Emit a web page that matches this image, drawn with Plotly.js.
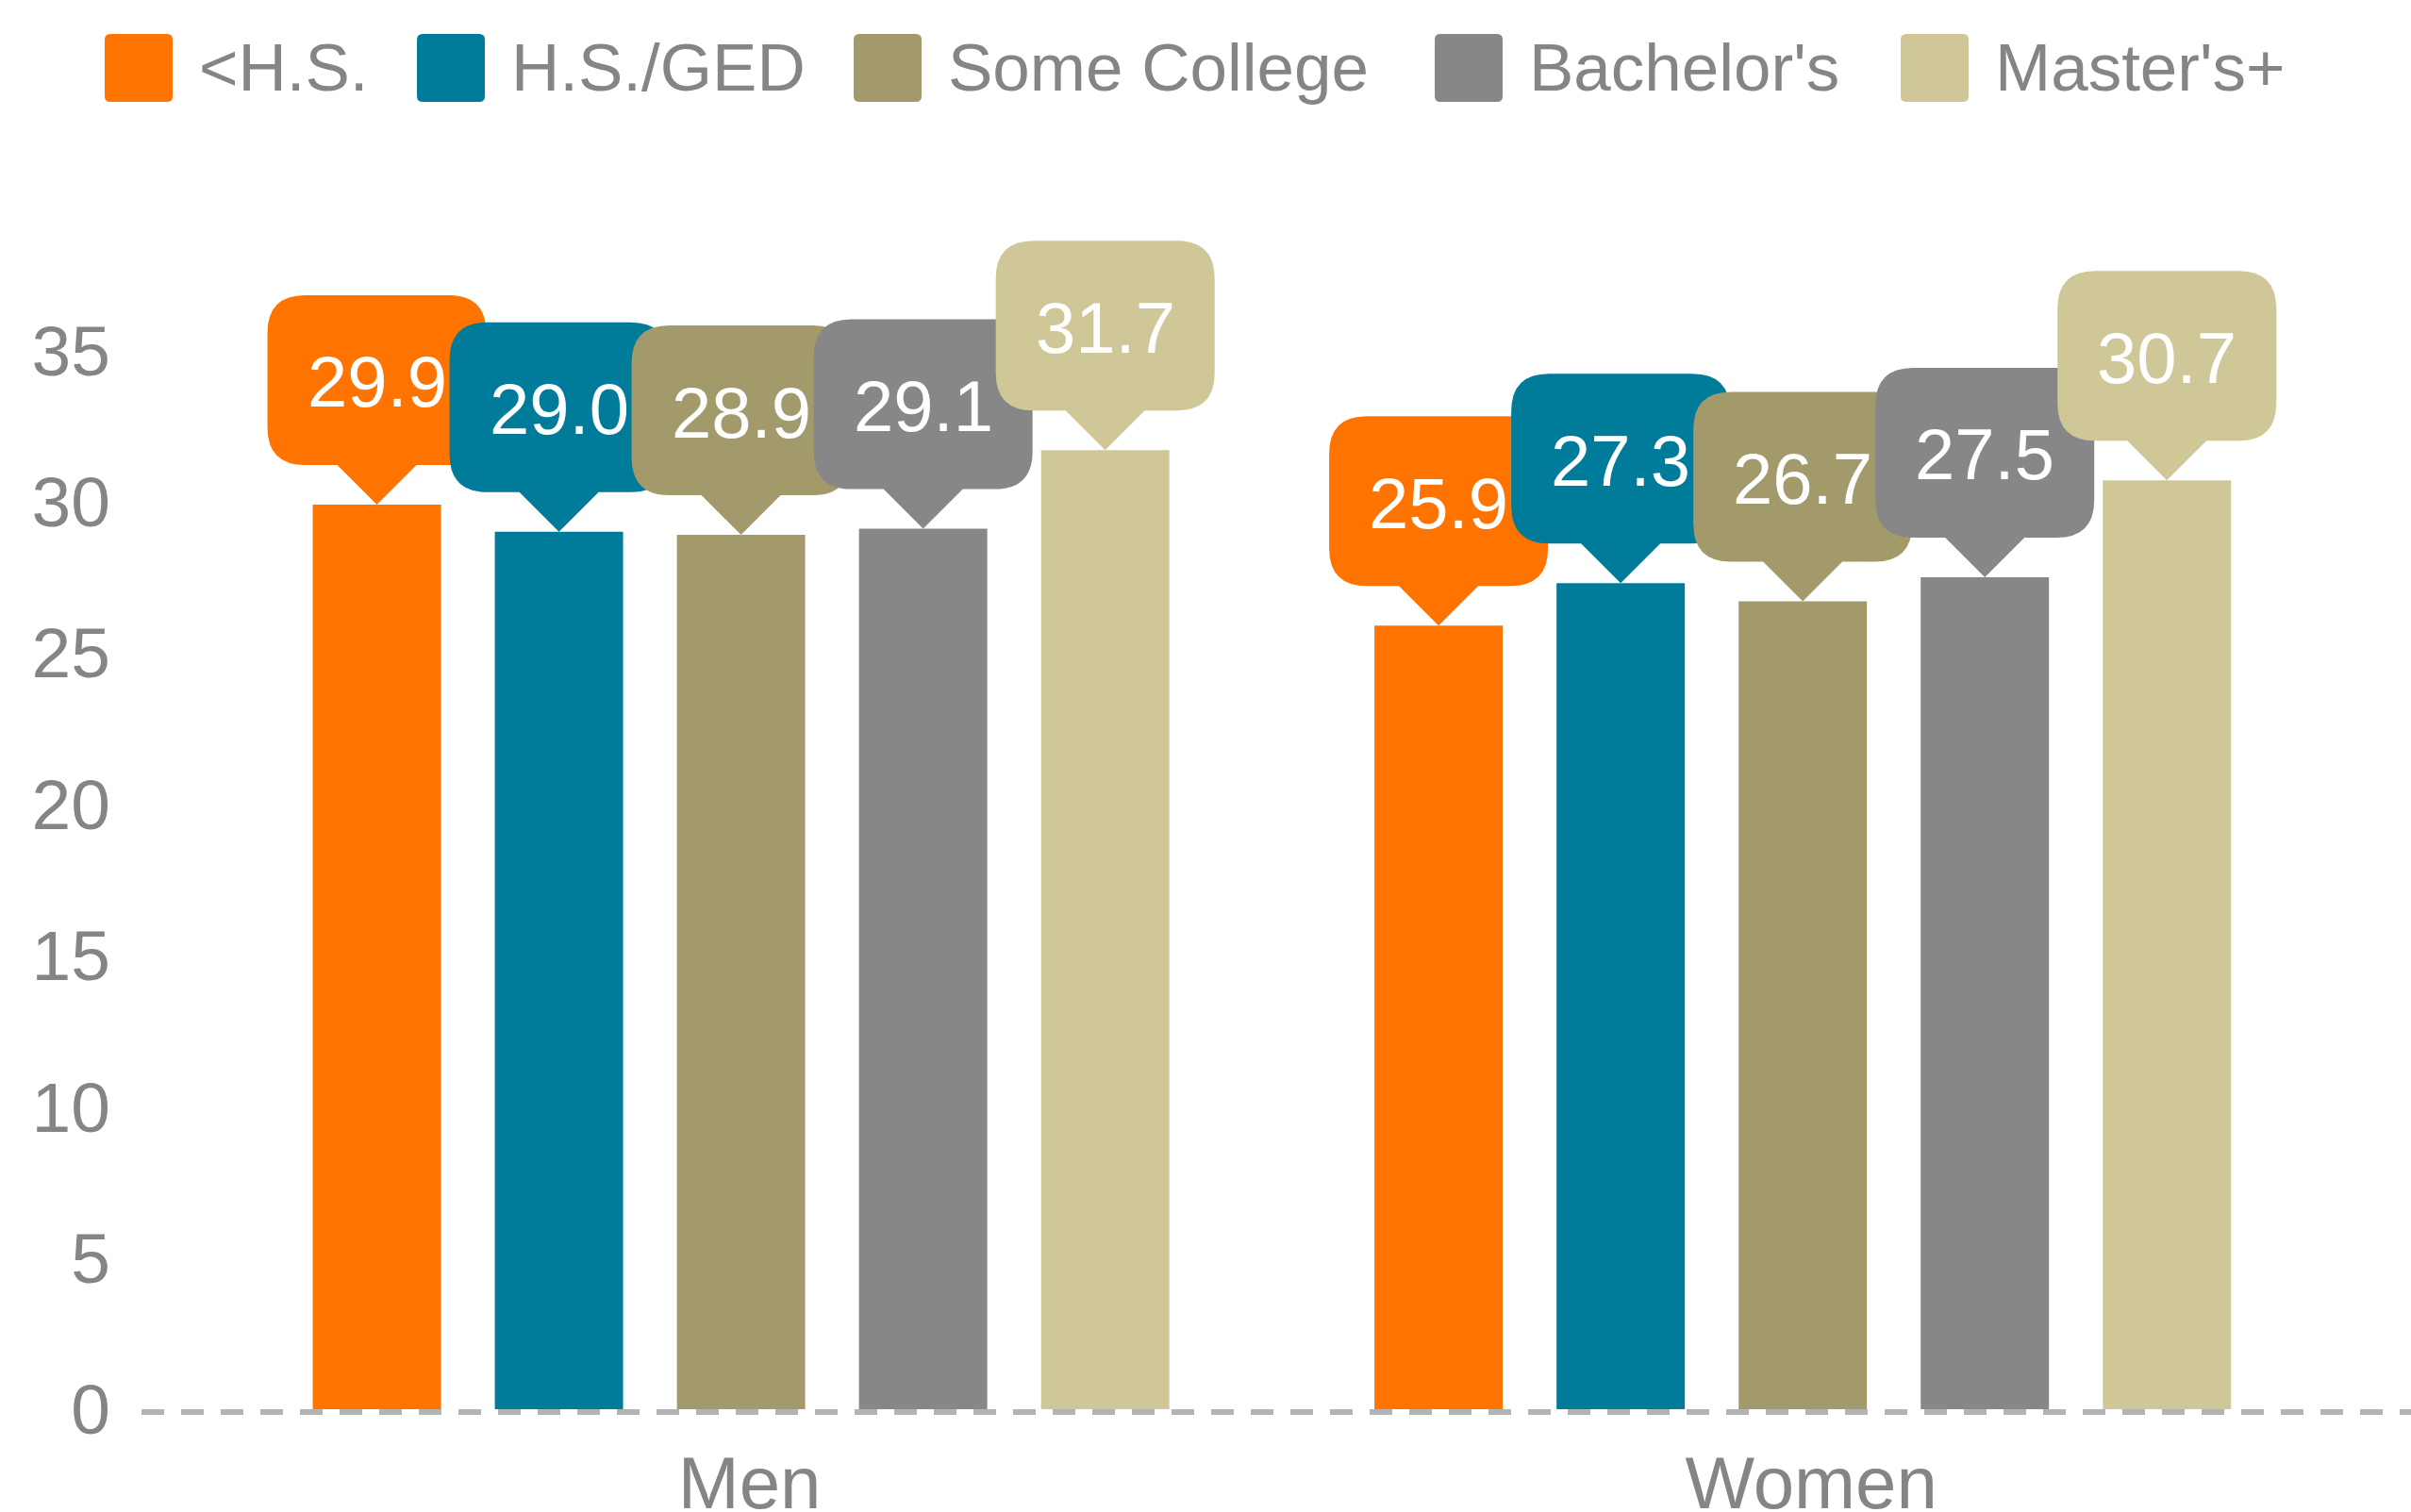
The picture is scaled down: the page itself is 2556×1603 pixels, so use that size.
<!DOCTYPE html>
<html><head><meta charset="utf-8">
<script src="https://cdn.plot.ly/plotly-3.0.1.min.js"></script>
<style>html,body{margin:0;padding:0;background:#fff;}#chart{width:2556px;height:1603px;}</style>
</head><body><div id="chart"></div>
<script>
// ---- data ----
const categories = ['Men', 'Women'];
const seriesNames = ['<H.S.', 'H.S./GED', 'Some College', "Bachelor's", "Master's+"];
const lessThanHS = [29.9, 25.9];
const hsGED = [29.0, 27.3];
const someCollege = [28.9, 26.7];
const bachelors = [29.1, 27.5];
const mastersPlus = [31.7, 30.7];
const yTickVals = [0, 5, 10, 15, 20, 25, 30, 35];
const yTickText = ['0', '5', '10', '15', '20', '25', '30', '35'];

// ---- styles ----
const seriesValues = [lessThanHS, hsGED, someCollege, bachelors, mastersPlus];
const colors = ['#FF7300', '#007B9A', '#A39A6B', '#878787', '#D0C799'];
const legendSwatchX = [111, 442, 905, 1521, 2015];   // pixel positions of legend swatches
const FONT = 'Liberation Sans, Arial, Helvetica, sans-serif';
const GREY = '#858585';
const W = 2556, H = 1603;
const M = {l: 150, r: 0, t: 211, b: 109};
const slot = 0.1715, barW = 0.1208;
const catIdx = categories.map((c, i) => i);

function esc(s) { return s.replace(/&/g, '&amp;').replace(/</g, '&lt;').replace(/>/g, '&gt;'); }

const traces = seriesValues.map((vals, i) => ({
  type: 'bar', name: esc(seriesNames[i]), x: catIdx, y: vals,
  width: barW, offset: (i - 2) * slot - barW / 2,
  marker: {color: colors[i], line: {width: 0}},
  hoverinfo: 'skip', showlegend: false
}));

// callout bubble path (pixels, y up relative to bar top)
const hw = 116, ph = 42, bh = 180, r = 40, pb = 42;
const calloutPath = [
  'M0,0', `L${pb},${ph}`, `L${hw - r},${ph}`, `Q${hw},${ph} ${hw},${ph + r}`,
  `L${hw},${ph + bh - r}`, `Q${hw},${ph + bh} ${hw - r},${ph + bh}`,
  `L${-hw + r},${ph + bh}`, `Q${-hw},${ph + bh} ${-hw},${ph + bh - r}`,
  `L${-hw},${ph + r}`, `Q${-hw},${ph} ${-hw + r},${ph}`, `L${-pb},${ph}`, 'Z'
].join(' ');

const plotW = W - M.l - M.r, plotH = H - M.t - M.b;
const shapes = [];
const annotations = [];
// dashed zero line (just below the bar bottoms, unclipped)
shapes.push({type: 'line', xref: 'paper', yref: 'paper', x0: 0, x1: 1, y0: -3 / plotH, y1: -3 / plotH,
  line: {color: '#B3B3B3', width: 6, dash: '24px,18px'}, layer: 'below'});

catIdx.forEach(j => {
  seriesValues.forEach((vals, i) => {
    const xc = j + (i - 2) * slot;
    shapes.push({type: 'path', xref: 'x', yref: 'y', xsizemode: 'pixel', ysizemode: 'pixel',
      xanchor: xc, yanchor: vals[j], path: calloutPath, fillcolor: colors[i],
      line: {width: 0}, layer: 'above'});
    annotations.push({xref: 'x', yref: 'y', x: xc, y: vals[j], yshift: ph + bh / 2 - 2,
      text: vals[j].toFixed(1), showarrow: false, xanchor: 'center', yanchor: 'middle',
      font: {family: FONT, size: 76, color: '#FFFFFF'}});
  });
});

// custom legend (large rounded swatches)
const legFont = 71, swatch = 72, swGap = 26;
const legY = (H - M.b - 72) / plotH;
seriesNames.forEach((name, i) => {
  const px = legendSwatchX[i];
  shapes.push({type: 'path', xref: 'paper', yref: 'paper', xsizemode: 'pixel', ysizemode: 'pixel',
    xanchor: (px - M.l) / plotW, yanchor: legY,
    path: `M6,36 L66,36 Q72,36 72,30 L72,-30 Q72,-36 66,-36 L6,-36 Q0,-36 0,-30 L0,30 Q0,36 6,36 Z`,
    fillcolor: colors[i], line: {width: 0}, layer: 'above'});
  const tx = px + swatch + swGap;
  annotations.push({xref: 'paper', yref: 'paper', x: (tx - M.l) / plotW, y: legY,
    text: esc(name), showarrow: false, xanchor: 'left', yanchor: 'middle',
    font: {family: FONT, size: legFont, color: GREY}});
});

const layout = {
  width: W, height: H, margin: M,
  paper_bgcolor: '#FFFFFF', plot_bgcolor: '#FFFFFF',
  font: {family: FONT, color: GREY},
  barmode: 'overlay', showlegend: false,
  xaxis: {type: 'linear', range: [-0.5647, 1.5729], tickvals: catIdx, ticktext: categories,
    showgrid: false, zeroline: false, showline: false, ticks: '',
    tickfont: {family: FONT, size: 78, color: GREY}, ticklabelstandoff: 26, ticklabelshift: 9,
    fixedrange: true},
  yaxis: {range: [0, 40], tickvals: yTickVals, ticktext: yTickText,
    showgrid: false, zeroline: false, showline: false, ticks: '',
    tickfont: {family: FONT, size: 75, color: GREY}, ticklabelstandoff: 32, fixedrange: true},
  shapes: shapes, annotations: annotations
};

Plotly.newPlot('chart', traces, layout, {displayModeBar: false, staticPlot: true});
</script>
</body></html>
